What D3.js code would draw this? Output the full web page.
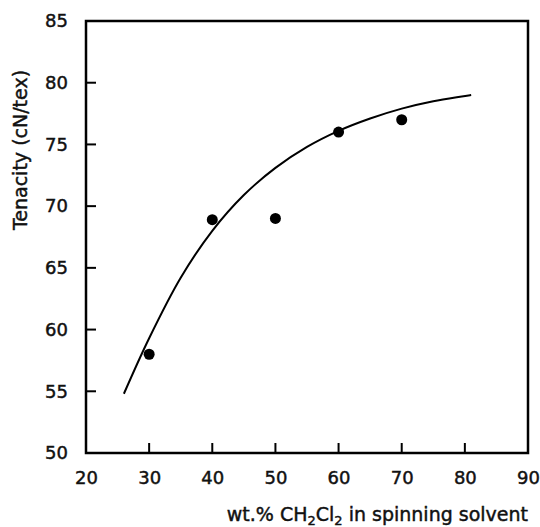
<!DOCTYPE html>
<html><head><meta charset="utf-8">
<script src="https://cdn.jsdelivr.net/npm/d3@7"></script>
<style>body{margin:0;background:#fff}text{font-family:"DejaVu Sans",sans-serif;fill:#111;stroke:#111;stroke-width:0.45px}</style>
</head><body><svg id="c" width="540" height="527"></svg>
<script>
const xTicks = [20,30,40,50,60,70,80,90];
const yTicks = [50,55,60,65,70,75,80,85];
const pointX = [30,40,50,60,70];
const pointY = [58.0,68.9,69.0,76.0,77.0];
const curveX = [26,30,35,40,45,50,55,60,65,70,75,81];
const curveY = [54.8,59.3,64.2,68.0,70.9,73.1,74.8,76.1,77.1,77.9,78.5,79.0];

const svg = d3.select("#c");
const x = d3.scaleLinear().domain([20,90]).range([86,528]);
const y = d3.scaleLinear().domain([50,85]).range([453,21]);

// frame
svg.append("rect").attr("x",x(20)).attr("y",y(85)).attr("width",x(90)-x(20)).attr("height",y(50)-y(85))
  .attr("fill","none").attr("stroke","#000").attr("stroke-width",2.5);

// x axis (ticks inward)
const gx = svg.append("g").attr("transform",`translate(0,${y(50)})`)
  .call(d3.axisBottom(x).tickValues(xTicks).tickSize(0).tickPadding(18).tickFormat(d3.format("d")));
gx.select(".domain").remove();
gx.selectAll("text").attr("font-size",18).attr("font-family","DejaVu Sans");
svg.append("g").selectAll("line").data(xTicks.filter(d=>d>20&&d<90)).join("line")
  .attr("x1",d=>x(d)).attr("x2",d=>x(d)).attr("y1",y(50)).attr("y2",y(50)-10)
  .attr("stroke","#000").attr("stroke-width",2);

const gy = svg.append("g").attr("transform",`translate(${x(20)},0)`)
  .call(d3.axisLeft(y).tickValues(yTicks).tickSize(0).tickPadding(18).tickFormat(d3.format("d")));
gy.select(".domain").remove();
gy.selectAll("text").attr("font-size",18).attr("font-family","DejaVu Sans");
svg.append("g").selectAll("line").data(yTicks.filter(d=>d>50&&d<85)).join("line")
  .attr("x1",x(20)).attr("x2",x(20)+10).attr("y1",d=>y(d)).attr("y2",d=>y(d))
  .attr("stroke","#000").attr("stroke-width",2);

// curve
const line = d3.line().x(d=>x(d[0])).y(d=>y(d[1])).curve(d3.curveCatmullRom.alpha(0.5));
svg.append("path").datum(curveX.map((v,i)=>[v,curveY[i]])).attr("d",line)
  .attr("fill","none").attr("stroke","#000").attr("stroke-width",2);

// points
svg.append("g").selectAll("circle").data(pointX.map((v,i)=>[v,pointY[i]])).join("circle")
  .attr("cx",d=>x(d[0])).attr("cy",d=>y(d[1])).attr("r",5.5).attr("fill","#000");

// titles
const xt = svg.append("text").attr("x",528).attr("y",521).attr("text-anchor","end").attr("font-size",19);
xt.append("tspan").text("wt.% CH");
xt.append("tspan").text("2").attr("font-size",13).attr("dy",4);
xt.append("tspan").text("Cl").attr("dy",-4);
xt.append("tspan").text("2").attr("font-size",13).attr("dy",4);
xt.append("tspan").text(" in spinning solvent").attr("dy",-4);

svg.append("text").attr("transform","translate(27,150) rotate(-90)").attr("text-anchor","middle")
  .attr("font-size",19).text("Tenacity (cN/tex)");
</script></body></html>
